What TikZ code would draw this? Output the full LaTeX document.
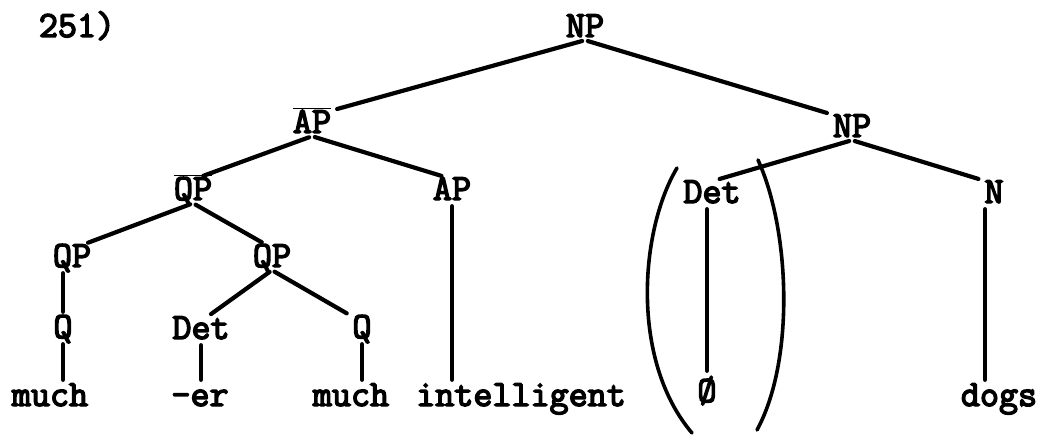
\documentclass[tikz,border=0pt]{standalone}
\usepackage{fontspec}
\newfontfamily\twfont[FakeBold=4]{Latin Modern Mono}
\begin{document}
\begin{tikzpicture}[x=1pt,y=-1pt,
  lbl/.style={font=\twfont\fontsize{37}{40}\selectfont, inner sep=3pt,
    text height=20pt, text depth=0pt},
  edge/.style={line width=4.2pt, line cap=round, shorten <=3pt, shorten >=3pt},
  paren/.style={line width=3.6pt, line cap=round}]
\useasboundingbox (0,0) rectangle (1053,436);
% labels
\node[lbl] (num) at (77,27) {251)};
\node[lbl] (NP0) at (585,27) {NP};
\node[lbl] (APb) at (312,123) {$\overline{\hbox{AP}}$};
\node[lbl] (NP1) at (852,127) {NP};
\node[lbl] (QPb) at (193,190) {$\overline{\hbox{QP}}$};
\node[lbl] (AP) at (452,190) {AP};
\node[lbl] (Det2) at (712,193) {Det};
\node[lbl] (N) at (994,193) {N};
\node[lbl] (QPl) at (72,257) {QP};
\node[lbl] (QPr) at (272,257) {QP};
\node[lbl] (Ql) at (63,328) {Q};
\node[lbl] (Det1) at (201,329) {Det};
\node[lbl] (Qr) at (362,328) {Q};
\node[lbl] (much1) at (50,396) {much};
\node[lbl] (er) at (200,396) {-er};
\node[lbl] (much2) at (351,396) {much};
\node[lbl] (intel) at (521,396) {intelligent};
\node[lbl] (null) at (707,392) {Ø};
\node[lbl] (dogs) at (999,396) {dogs};
% edges
\draw[edge] (NP0.south) -- (APb.north east);
\draw[edge] (NP0.south) -- (NP1.north west);
\draw[edge] (APb.south) -- (QPb.60);
\draw[edge] (APb.south) -- (AP.120);
\draw[edge] (QPb.south) -- (QPl.45);
\draw[edge] (QPb.south) -- (QPr.120);
\draw[edge] (Ql.north |- QPl.south) -- (Ql.north);
\draw[edge] (QPr.south) -- (Det1.60);
\draw[edge] (QPr.south) -- (Qr.north west);
\draw[edge] (Ql.south) -- (Ql.south |- much1.north);
\draw[edge] (Det1.south) -- (Det1.south |- er.north);
\draw[edge] (Qr.south) -- (Qr.south |- much2.north);
\draw[edge] (AP.south) -- (AP.south |- intel.north);
\draw[edge] (NP1.south) -- (Det2.70);
\draw[edge] (NP1.south) -- (N.north west);
\draw[edge, shorten >=8pt] (null.north |- Det2.south) -- (null.north);
\draw[edge] ([xshift=-9pt]N.south) -- ([xshift=-9pt]N.south |- dogs.north);
% parentheses
\coordinate (lpt) at (677,168);
\coordinate (lpb) at (692,433);
\coordinate (rpt) at (758,160);
\coordinate (rpb) at (757,430);
\draw[paren] (lpt) .. controls (640,230) and (630,360) .. (lpb);
\draw[paren] (rpt) .. controls (790,230) and (795,360) .. (rpb);
\end{tikzpicture}
\end{document}
